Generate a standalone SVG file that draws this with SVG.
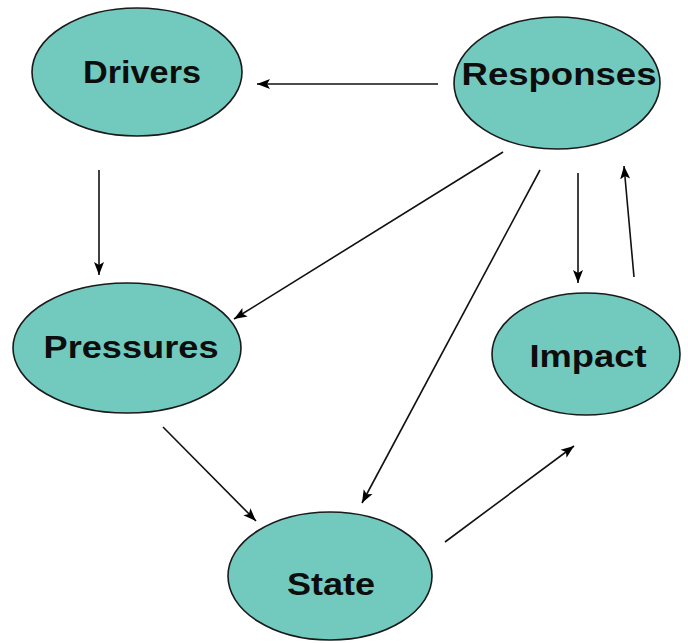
<svg xmlns="http://www.w3.org/2000/svg" width="688" height="643" viewBox="0 0 688 643">
  <style>
    .node ellipse { fill: #72cabe; stroke: #1a1a1a; stroke-width: 1.6; }
    .node text { font-family: "Liberation Sans", Arial, sans-serif; font-weight: bold; font-size: 32px; fill: #0d0d0d; text-anchor: middle; }
    .edge { stroke: #111; stroke-width: 1.6; fill: none; marker-end: url(#head); }
  </style>
  <defs>
    <marker id="head" markerWidth="14" markerHeight="12" refX="13" refY="6" orient="auto" markerUnits="userSpaceOnUse">
      <path d="M0,1 L13,6 L0,11 L3,6 Z" fill="#000"/>
    </marker>
  </defs>
  <rect width="688" height="643" fill="#ffffff"/>

  <g id="connectors">
    <line class="edge" x1="438" y1="84" x2="257" y2="84"/>
    <line class="edge" x1="99" y1="170" x2="99" y2="275"/>
    <line class="edge" x1="503" y1="152" x2="234" y2="319"/>
    <line class="edge" x1="540" y1="170" x2="362" y2="503"/>
    <line class="edge" x1="578" y1="173" x2="578" y2="283"/>
    <line class="edge" x1="634" y1="277" x2="624" y2="166"/>
    <line class="edge" x1="163" y1="427" x2="256" y2="521"/>
    <line class="edge" x1="445" y1="542" x2="574" y2="446"/>
  </g>

  <g id="drivers" class="node">
    <ellipse cx="137" cy="72" rx="105" ry="64"/>
    <text x="142" y="83" textLength="118" lengthAdjust="spacingAndGlyphs">Drivers</text>
  </g>
  <g id="responses" class="node">
    <ellipse cx="557" cy="83" rx="103" ry="66"/>
    <text x="559" y="85" textLength="195" lengthAdjust="spacingAndGlyphs">Responses</text>
  </g>
  <g id="pressures" class="node">
    <ellipse cx="127" cy="348" rx="114" ry="65"/>
    <text x="131" y="358" textLength="175" lengthAdjust="spacingAndGlyphs">Pressures</text>
  </g>
  <g id="impact" class="node">
    <ellipse cx="586" cy="354" rx="94" ry="61"/>
    <text x="588" y="367" textLength="117" lengthAdjust="spacingAndGlyphs">Impact</text>
  </g>
  <g id="state" class="node">
    <ellipse cx="330" cy="576" rx="102" ry="64"/>
    <text x="331" y="595" textLength="88" lengthAdjust="spacingAndGlyphs">State</text>
  </g>
</svg>
